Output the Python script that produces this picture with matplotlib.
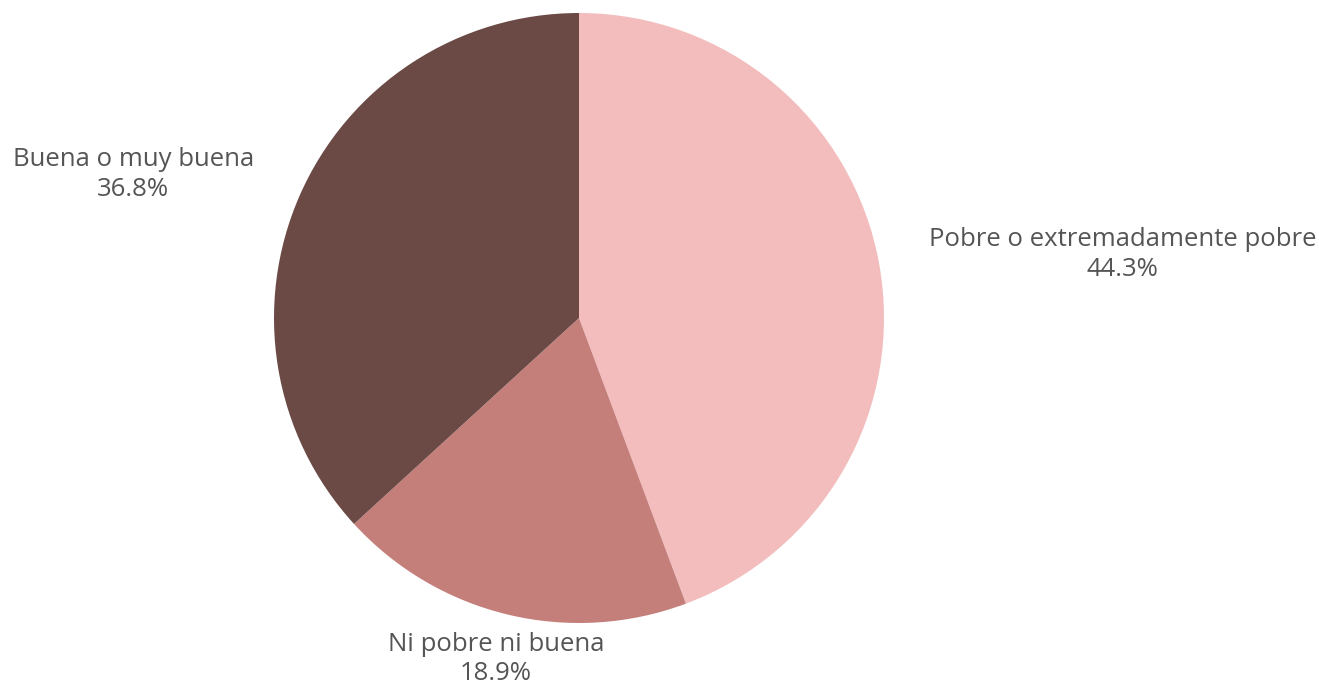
import matplotlib
matplotlib.use("Agg")
import matplotlib.pyplot as plt

categories = ["Pobre o extremadamente pobre", "Ni pobre ni buena", "Buena o muy buena"]
values = [44.3, 18.9, 36.8]
colors = ["#F3BDBD", "#C47F7A", "#6B4945"]

labels = [f"{c}\n{v:.1f}%" for c, v in zip(categories, values)]

W, H = 1319, 688
fig = plt.figure(figsize=(W / 100, H / 100), dpi=100)
ax = fig.add_axes([0, 0, 1, 1])

wedges, texts = ax.pie(
    values,
    labels=labels,
    colors=colors,
    startangle=90,
    counterclock=False,
    center=(579, H - 318),
    radius=305,
    labeldistance=1.165,
    frame=True,
    textprops=dict(color="#555555", fontsize=18.5, family=["Open Sans", "DejaVu Sans"],
                   multialignment="center", linespacing=1.25),
)
ax.set_xlim(0, W)
ax.set_ylim(0, H)
ax.set_aspect("equal")
ax.axis("off")

texts[0].set_ha("left")
texts[2].set_ha("right")
texts[1].set_ha("center")
texts[1].set_va("top")
x, y = texts[1].get_position()
texts[1].set_position((x, y + 32))

fig.savefig("out.png", dpi=100)
